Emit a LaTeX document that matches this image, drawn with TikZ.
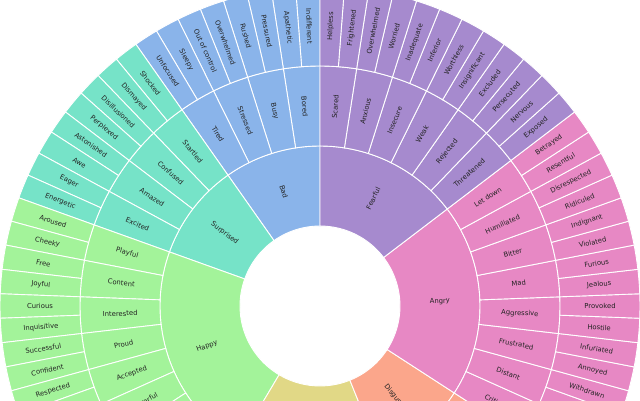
\documentclass[tikz,border=0pt]{standalone}
\usepackage{fontspec}
\setmainfont{DejaVu Sans}
\usepackage{tikz}
\definecolor{bad}{HTML}{8AB4EA}
\definecolor{surprised}{HTML}{76E3C8}
\definecolor{happy}{HTML}{A3F39A}
\definecolor{sad}{HTML}{E1D886}
\definecolor{disgusted}{HTML}{FBA68B}
\definecolor{angry}{HTML}{E788C4}
\definecolor{fearful}{HTML}{A68ACE}
\definecolor{labelink}{HTML}{222222}
\tikzset{
  wedge/.style     = {draw=white,line width=0.9pt},
  wheeltext/.style = {font=\fontsize{6.8}{8}\selectfont,text=labelink,inner sep=0pt}
}
\newcommand{\leafang}{4.390243902}
\newcommand{\sector}[5]{%
  \pgfmathsetmacro{\angA}{90+(#1)*\leafang}%
  \pgfmathsetmacro{\angB}{90+(#1+#2)*\leafang}%
  \filldraw[wedge,fill=#5] (\angA:#3pt) arc[start angle=\angA,end angle=\angB,radius=#3pt]
    -- (\angB:#4pt) arc[start angle=\angB,end angle=\angA,radius=#4pt] -- cycle;
}
\newcommand{\seglabel}[5]{%
  \pgfmathsetmacro{\angM}{90+(#2+#3/2)*\leafang}%
  \pgfmathsetmacro{\wturn}{cos(\angM)>=0 ? \angM : \angM-180}%
  \node[wheeltext,rotate=\wturn] (#1) at (\angM:#4pt) {#5};
}
\begin{document}
\begin{tikzpicture}
  \fill[white] (-320pt,-94pt) rectangle (320pt,306pt);
  \useasboundingbox (-320pt,-94pt) rectangle (320pt,306pt);
  \clip (-320pt,-94pt) rectangle (320pt,306pt);
  \foreach \first/\n/\col in {0/8/bad,8/8/surprised,16/18/happy,34/12/sad,
                              46/8/disgusted,54/16/angry,70/12/fearful}{
    \sector{\first}{\n}{80}{160}{\col}
    \pgfmathtruncatemacro{\last}{\first+\n-1}
    \pgfmathtruncatemacro{\nextk}{\first+2}
    \foreach \k in {\first,\nextk,...,\last}{\sector{\k}{2}{160}{240}{\col}}
    \foreach \k in {\first,...,\last}{\sector{\k}{1}{240}{320}{\col}}
  }
  \foreach \first/\n/\lab in {0/8/Bad,8/8/Surprised,16/18/Happy,46/8/Disgusted,
                              54/16/Angry,70/12/Fearful}
    {\seglabel{core-\lab}{\first}{\n}{120}{\lab}}
  \foreach \lab [count=\k from 0] in {Bored,Busy,Stressed,Tired,Startled,Confused,
      Amazed,Excited,Playful,Content,Interested,Proud,Accepted,Powerful}
    {\seglabel{mid-\k}{2*\k}{2}{200}{\lab}}
  \foreach \lab [count=\k from 27] in {Critical,Distant,Frustrated,Aggressive,Mad,
      Bitter,Humiliated,Let down,Threatened,Rejected,Weak,Insecure,Anxious,Scared}
    {\seglabel{mid-\k}{2*\k}{2}{200}{\lab}}
  \foreach \lab [count=\k from 0] in {Indifferent,Apathetic,Pressured,Rushed,
      Overwhelmed,Out of control,Sleepy,Unfocused,Shocked,Dismayed,Disillusioned,
      Perplexed,Astonished,Awe,Eager,Energetic,Aroused,Cheeky,Free,Joyful,Curious,
      Inquisitive,Successful,Confident,Respected}
    {\seglabel{leaf-\k}{\k}{1}{280}{\lab}}
  \foreach \lab [count=\k from 57] in {Withdrawn,Annoyed,Infuriated,Hostile,Provoked,
      Jealous,Furious,Violated,Indignant,Ridiculed,Disrespected,Resentful,Betrayed,
      Exposed,Nervous,Persecuted,Excluded,Insignificant,Worthless,Inferior,Inadequate,
      Worried,Overwhelmed,Frightened,Helpless}
    {\seglabel{leaf-\k}{\k}{1}{280}{\lab}}
\end{tikzpicture}
\end{document}
